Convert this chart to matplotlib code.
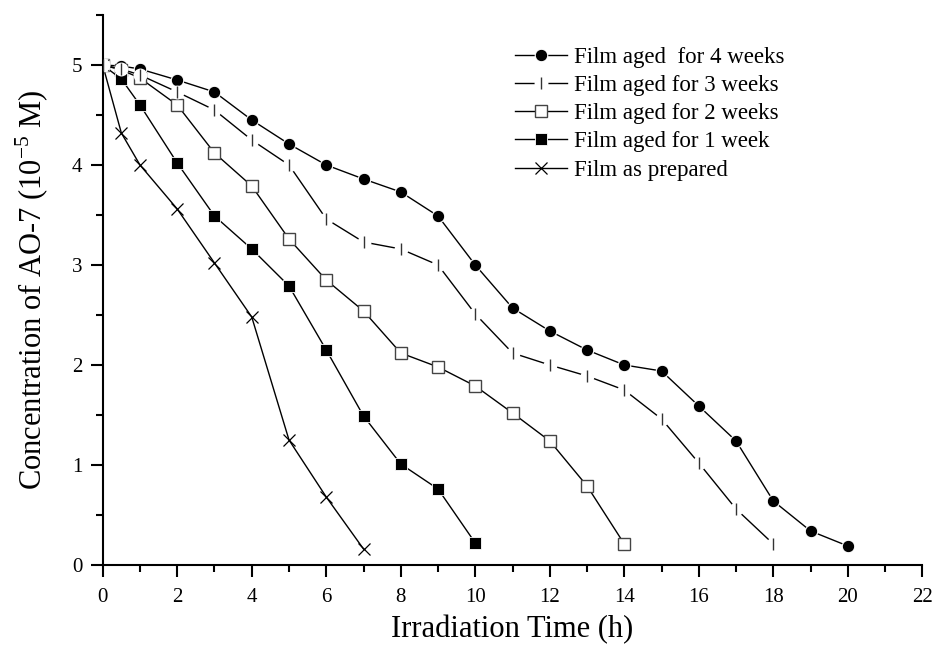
import matplotlib.pyplot as plt
from matplotlib.ticker import MultipleLocator

# irradiation times (h)
t_4w = [0, 0.5, 1, 2, 3, 4, 5, 6, 7, 8, 9, 10, 11, 12, 13, 14, 15, 16, 17, 18, 19, 20]
t_3w = [0, 0.5, 1, 2, 3, 4, 5, 6, 7, 8, 9, 10, 11, 12, 13, 14, 15, 16, 17, 18]
t_2w = [0, 0.5, 1, 2, 3, 4, 5, 6, 7, 8, 9, 10, 11, 12, 13, 14]
t_1w = [0, 0.5, 1, 2, 3, 4, 5, 6, 7, 8, 9, 10]
t_prep = [0, 0.5, 1, 2, 3, 4, 5, 6, 7]

# AO-7 concentration (10^-5 M)
c_4w = [5.0, 4.99, 4.96, 4.85, 4.73, 4.45, 4.21, 4.0, 3.86, 3.73, 3.49, 3.0,
        2.57, 2.34, 2.15, 2.0, 1.94, 1.59, 1.24, 0.64, 0.34, 0.19]
c_3w = [5.0, 4.96, 4.9, 4.73, 4.55, 4.25, 4.0, 3.46, 3.23, 3.16, 3.0, 2.51,
        2.12, 2.0, 1.89, 1.75, 1.46, 1.02, 0.56, 0.21]
c_2w = [5.0, 4.95, 4.87, 4.6, 4.12, 3.79, 3.26, 2.85, 2.54, 2.12, 1.98, 1.79,
        1.52, 1.24, 0.79, 0.21]
c_1w = [5.0, 4.86, 4.6, 4.02, 3.49, 3.16, 2.79, 2.15, 1.49, 1.01, 0.76, 0.22]
c_prep = [5.0, 4.32, 4.0, 3.56, 3.02, 2.48, 1.25, 0.68, 0.16]

labels = ['Film aged  for 4 weeks', 'Film aged for 3 weeks', 'Film aged for 2 weeks',
          'Film aged for 1 week', 'Film as prepared']


def main():
        plt.rcParams['font.family'] = ['Liberation Serif', 'DejaVu Serif']
        plt.rcParams['mathtext.fontset'] = 'custom'
        plt.rcParams['mathtext.rm'] = 'Liberation Serif'

        fig = plt.figure(figsize=(9.33, 6.55), dpi=100)
        ax = fig.add_axes([0.1101, 0.1374, 0.8785, 0.8397])

        lk = dict(color='black', lw=1.0, zorder=2)

        # 4 weeks - filled circles
        h4, = ax.plot(t_4w, c_4w, marker='o', ms=9, mfc='black', mec='white', mew=0.8, **lk)
        # 3 weeks - vertical ticks, line broken round each marker
        l3, = ax.plot(t_3w, c_3w, **lk)
        m3a, = ax.plot(t_3w, c_3w, ls='none', marker='o', ms=10, mfc='white', mec='none', zorder=2.5)
        m3b, = ax.plot(t_3w, c_3w, ls='none', marker='|', ms=9, mew=1.0, mec='#333333', zorder=3)
        # 2 weeks - open squares
        h2, = ax.plot(t_2w, c_2w, marker='s', ms=8, mfc='white', mec='#444444', mew=1.0, **lk)
        # 1 week - filled squares
        h1, = ax.plot(t_1w, c_1w, marker='s', ms=8, mfc='black', mec='white', mew=0.6, **lk)
        # as prepared - crosses
        h0, = ax.plot(t_prep, c_prep, marker='x', ms=9, mew=0.9, mec='black', **lk)

        ax.set_xlim(0, 22)
        ax.set_ylim(0, 5.5)
        ax.xaxis.set_major_locator(MultipleLocator(2))
        ax.xaxis.set_minor_locator(MultipleLocator(1))
        ax.yaxis.set_major_locator(MultipleLocator(1))
        ax.yaxis.set_minor_locator(MultipleLocator(0.5))

        for s in ['top', 'right']:
                ax.spines[s].set_visible(False)
        for s in ['left', 'bottom']:
                ax.spines[s].set_linewidth(1.5)
        ax.tick_params(which='major', direction='out', length=8.5, width=1.5, labelsize=15)
        ax.tick_params(which='minor', direction='out', length=5, width=1.5)
        ax.tick_params(axis='x', which='major', pad=8)
        ax.tick_params(axis='y', which='major', pad=6)

        ax.set_xlabel('Irradiation Time (h)', fontsize=22, labelpad=6)
        ax.set_ylabel('Concentration of AO-7 (10$^{-5}$ M)', fontsize=22, labelpad=15)

        handles = [h4, (l3, m3a, m3b), h2, h1, h0]
        ax.legend(handles, labels, loc='upper left', bbox_to_anchor=(0.503, 0.942),
                  frameon=False, fontsize=16.5, handlelength=2.27, handletextpad=0.3,
                  labelspacing=0.31, borderpad=0, borderaxespad=0)

        fig.savefig('out.png', dpi=100)


if __name__ == "__main__":
        main()
